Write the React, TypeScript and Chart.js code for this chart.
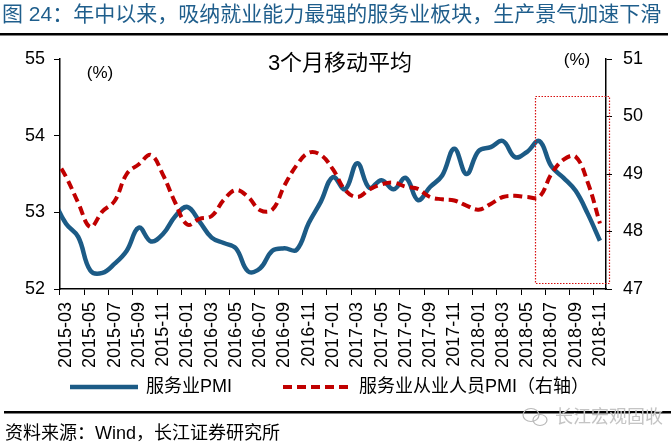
import React, { useEffect, useRef } from 'react';
import { Chart, registerables } from 'chart.js';

Chart.register(...registerables);

// ---- data ----
// first month (2015-02) lies just left of the visible axis, as in the source chart
const MONTHS = [
  '2015-02', '2015-03', '2015-04', '2015-05', '2015-06', '2015-07', '2015-08', '2015-09', '2015-10', '2015-11', '2015-12',
  '2016-01', '2016-02', '2016-03', '2016-04', '2016-05', '2016-06', '2016-07', '2016-08', '2016-09', '2016-10', '2016-11', '2016-12',
  '2017-01', '2017-02', '2017-03', '2017-04', '2017-05', '2017-06', '2017-07', '2017-08', '2017-09', '2017-10', '2017-11', '2017-12',
  '2018-01', '2018-02', '2018-03', '2018-04', '2018-05', '2018-06', '2018-07', '2018-08', '2018-09', '2018-10', '2018-11',
];
const FIRST_VISIBLE_MONTH = '2015-03';

const SERVICE_PMI = [
  53.15,
  52.85, 52.68, 52.24, 52.21, 52.33, 52.5, 52.8, 52.62, 52.72, 52.95,
  53.07, 52.88, 52.67, 52.6, 52.53, 52.23, 52.27, 52.5, 52.53, 52.51, 52.86, 53.14,
  53.46, 53.3, 53.64, 53.32, 53.42, 53.3, 53.45, 53.16, 53.33, 53.48, 53.83, 53.5,
  53.8, 53.85, 53.93, 53.72, 53.79, 53.93, 53.6, 53.45, 53.28, 52.98, 52.63,
];
const SERVICE_EMPLOYMENT_PMI = [
  49.3,
  48.95, 48.5, 48.08, 48.35, 48.53, 49.0, 49.17, 49.33, 48.98, 48.5,
  48.12, 48.22, 48.27, 48.55, 48.72, 48.6, 48.37, 48.38, 48.8, 49.15, 49.37, 49.33,
  49.08, 48.72, 48.6, 48.73, 48.82, 48.85, 48.78, 48.74, 48.6, 48.56, 48.54, 48.45,
  48.38, 48.48, 48.6, 48.62, 48.6, 48.6, 49.0, 49.25, 49.3, 48.85, 48.14,
];

const LEFT_MIN = 52;
const LEFT_MAX = 55;
const RIGHT_MIN = 47;
const RIGHT_MAX = 51;

const HIGHLIGHT_START = '2018-06';
const HIGHLIGHT_TOP = 54.52;
const HIGHLIGHT_BOTTOM = 52.08;

const TITLE = '图 24：年中以来，吸纳就业能力最强的服务业板块，生产景气加速下滑';
const SUBTITLE = '3个月移动平均';
const UNIT = '(%)';
const SERIES_NAMES = ['服务业PMI', '服务业从业人员PMI（右轴）'];
const SOURCE = '资料来源：Wind，长江证券研究所';
const WATERMARK = '长江宏观固收';

const BLUE = '#1C5B86';
const RED = '#C00000';
const FONT = "'Liberation Sans', Arial, 'Noto Sans CJK SC', sans-serif";

const W = 671;
const H = 445;

const decorPlugin = {
  id: 'decor',
  afterDraw(chart: any) {
    const ctx = chart.ctx as CanvasRenderingContext2D;
    const xs = chart.scales.x;
    const ys = chart.scales.y;
    const area = chart.chartArea;

    ctx.save();
    // title
    ctx.fillStyle = '#1F5E8C';
    ctx.font = `21px ${FONT}`;
    ctx.textBaseline = 'middle';
    ctx.textAlign = 'left';
    ctx.fillText(TITLE, 2, 15, 666);

    // rule under title
    ctx.fillStyle = '#000';
    ctx.fillRect(0, 33, W - 3, 2.5);

    // subtitle
    ctx.font = `22px ${FONT}`;
    ctx.textAlign = 'center';
    ctx.fillText(SUBTITLE, 340, 64);

    // units
    ctx.font = `17px ${FONT}`;
    ctx.fillText(UNIT, 100, 73);
    ctx.fillText(UNIT, 577, 60);

    // highlight box
    const i = MONTHS.indexOf(HIGHLIGHT_START);
    const half = (xs.getPixelForValue(i) - xs.getPixelForValue(i - 1)) / 2;
    const left = Math.round(xs.getPixelForValue(i) - half) + 2.5;
    const right = Math.round(area.right) + 3.5;
    const top = Math.round(ys.getPixelForValue(HIGHLIGHT_TOP)) + 0.5;
    const bottom = Math.round(ys.getPixelForValue(HIGHLIGHT_BOTTOM)) + 0.5;
    ctx.strokeStyle = '#D81010';
    ctx.lineWidth = 1.2;
    ctx.setLineDash([1.5, 1.5]);
    ctx.strokeRect(left, top, right - left, bottom - top);
    ctx.setLineDash([]);

    // legend
    const ly = 387;
    ctx.strokeStyle = BLUE;
    ctx.lineWidth = 4.5;
    ctx.beginPath();
    ctx.moveTo(70, ly);
    ctx.lineTo(138, ly);
    ctx.stroke();
    ctx.strokeStyle = RED;
    ctx.lineWidth = 4;
    ctx.setLineDash([9, 5]);
    ctx.beginPath();
    ctx.moveTo(283, ly);
    ctx.lineTo(351, ly);
    ctx.stroke();
    ctx.setLineDash([]);
    ctx.fillStyle = '#000';
    ctx.font = `18px ${FONT}`;
    ctx.textAlign = 'left';
    ctx.fillText(SERIES_NAMES[0], 146, ly);
    ctx.fillText(SERIES_NAMES[1], 359, ly);

    // bottom rule
    ctx.fillRect(4, 411, W - 4, 2.5);

    // watermark
    ctx.strokeStyle = '#b8b8b8';
    ctx.lineWidth = 1.2;
    ctx.beginPath();
    ctx.ellipse(531, 415, 8, 6.5, 0, 0, Math.PI * 2);
    ctx.stroke();
    ctx.beginPath();
    ctx.ellipse(540, 420, 7, 5.5, 0, 0, Math.PI * 2);
    ctx.stroke();
    ctx.font = `18px ${FONT}`;
    ctx.fillStyle = '#c4c4c4';
    ctx.fillText(WATERMARK, 555, 418);

    // source
    ctx.fillStyle = '#000';
    ctx.font = `18px ${FONT}`;
    ctx.fillText(SOURCE, 5, 434);
    ctx.restore();
  },
};

export default function App() {
  const ref = useRef<HTMLCanvasElement | null>(null);

  useEffect(() => {
    if (!ref.current) return;
    const chart = new Chart(ref.current, {
      type: 'line',
      data: {
        labels: MONTHS,
        datasets: [
          {
            label: SERIES_NAMES[0],
            data: SERVICE_PMI,
            yAxisID: 'y',
            borderColor: BLUE,
            backgroundColor: BLUE,
            borderWidth: 4.5,
            pointRadius: 0,
            tension: 0.4,
            order: 1,
          },
          {
            label: SERIES_NAMES[1],
            data: SERVICE_EMPLOYMENT_PMI,
            yAxisID: 'y1',
            borderColor: RED,
            backgroundColor: RED,
            borderWidth: 4,
            borderDash: [9, 5],
            pointRadius: 0,
            tension: 0.4,
            order: 0,
          },
        ],
      },
      options: {
        animation: false,
        responsive: true,
        maintainAspectRatio: false,
        events: [],
        layout: { padding: { top: 59, left: 0, right: 0, bottom: 0 } },
        plugins: {
          legend: { display: false },
          tooltip: { enabled: false },
          title: { display: false },
        },
        scales: {
          x: {
            type: 'category',
            min: FIRST_VISIBLE_MONTH,
            offset: true,
            afterFit(scale: any) {
              scale.height = 156;
            },
            grid: {
              offset: true,
              drawOnChartArea: false,
              drawTicks: true,
              tickLength: 6,
              color: (c: any) => (c.index % 2 === 0 ? '#000' : 'rgba(0,0,0,0)'),
              lineWidth: 1,
            },
            border: { display: true, color: '#000', width: 1.5 },
            ticks: {
              autoSkip: false,
              maxRotation: 90,
              minRotation: 90,
              padding: 7,
              color: '#000',
              font: { family: FONT, size: 18 },
              callback: function (this: any, value: any, index: number) {
                return index % 2 === 0 ? this.getLabelForValue(value) : '';
              },
            },
          },
          y: {
            position: 'left',
            min: LEFT_MIN,
            max: LEFT_MAX,
            afterFit(scale: any) {
              scale.width = 60;
            },
            grid: { drawOnChartArea: false, drawTicks: true, tickLength: 6, color: '#000', lineWidth: 1 },
            border: { display: true, color: '#000', width: 1.5 },
            ticks: {
              stepSize: 1,
              padding: 9,
              color: '#000',
              font: { family: FONT, size: 18 },
            },
          },
          y1: {
            position: 'right',
            min: RIGHT_MIN,
            max: RIGHT_MAX,
            afterFit(scale: any) {
              scale.width = 65;
            },
            grid: { drawOnChartArea: false, drawTicks: true, tickLength: 6, color: '#000', lineWidth: 1 },
            border: { display: true, color: '#000', width: 1.5 },
            ticks: {
              stepSize: 1,
              padding: 11,
              color: '#000',
              font: { family: FONT, size: 18 },
            },
          },
        },
      },
      plugins: [decorPlugin],
    });
    return () => chart.destroy();
  }, []);

  return (
    <div style={{ position: 'absolute', left: 0, top: 0, width: W, height: H, background: '#fff' }}>
      <canvas ref={ref} />
    </div>
  );
}
